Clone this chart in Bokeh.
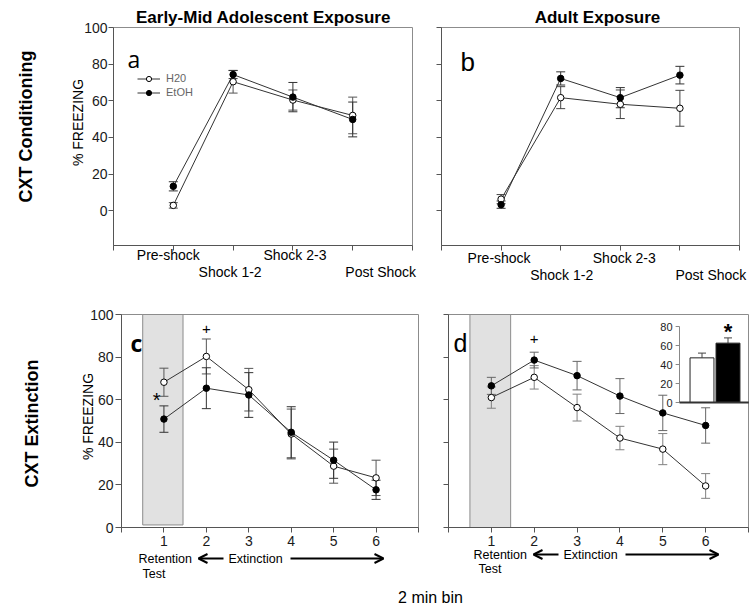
import math
from bokeh.plotting import figure
from bokeh.models import (Range1d, FixedTicker, ColumnDataSource, Label, Arrow, OpenHead,
                          Legend, LegendItem)
from bokeh.layouts import column, row
from bokeh.embed import file_html
from bokeh.resources import INLINE
from bokeh.core.properties import value

# ---------------- data ----------------
phases = ["Pre-shock", "Shock 1-2", "Shock 2-3", "Post Shock"]
a_h2o = [2.9, 70.4, 60.4, 52.0]
a_h2o_err = [1.5, 6.2, 5.5, 10.0]
a_etoh = [13.3, 74.3, 62.0, 49.8]
a_etoh_err = [2.5, 2.2, 8.0, 9.5]
b_h2o = [6.3, 61.7, 58.1, 55.9]
b_h2o_err = [2.5, 6.0, 7.8, 9.8]
b_etoh = [3.3, 72.2, 61.7, 74.0]
b_etoh_err = [2.0, 3.6, 5.5, 4.8]

bins = [1, 2, 3, 4, 5, 6]
c_h2o = [68.2, 80.3, 64.7, 43.9, 28.8, 23.3]
c_h2o_err = [6.6, 8.2, 10.0, 11.7, 8.0, 8.3]
c_etoh = [50.9, 65.4, 62.2, 44.7, 31.6, 17.7]
c_etoh_err = [6.2, 9.6, 10.5, 12.0, 8.5, 4.5]
d_h2o = [61.0, 70.5, 56.3, 42.0, 36.8, 19.5]
d_h2o_err = [5.0, 5.5, 6.3, 5.5, 7.3, 5.8]
d_etoh = [66.5, 78.6, 71.3, 61.7, 53.8, 47.9]
d_etoh_err = [4.0, 3.7, 6.7, 8.2, 8.3, 8.3]

inset_groups = ["H20", "EtOH"]
inset_means = [47.0, 62.5]
inset_err = [5.0, 5.5]

y_ticks = [0, 20, 40, 60, 80, 100]
inset_ticks = [0, 20, 40, 60, 80]
retention_bin = 1

FONT = "Liberation Sans"
AX = "#555555"
LINE = "#333333"


def rng(d0, p0, d1, p1, lo_px, hi_px):
    """data values seen at two canvas pixel positions, for a linear map through (p0,d0),(p1,d1)"""
    k = (d1 - d0) / (p1 - p0)
    return (d0 + (lo_px - p0) * k, d0 + (hi_px - p0) * k)


def make_fig(width, height, xr, yr):
    p = figure(width=width, height=height, x_range=Range1d(*xr), y_range=Range1d(*yr),
               output_backend="svg", toolbar_location=None, min_border=0)
    p.grid.visible = False
    p.outline_line_color = None
    p.background_fill_color = "white"
    p.border_fill_color = "white"
    for ax in p.axis:
        ax.axis_line_color = AX
        ax.major_tick_line_color = AX
        ax.minor_tick_line_color = AX
        ax.major_tick_out = 5
        ax.major_tick_in = 0
        ax.minor_tick_out = 5
        ax.minor_tick_in = 0
        ax.major_label_text_font = FONT
        ax.major_label_text_font_size = "14px"
        ax.major_label_text_color = "#1a1a1a"
    return p


def box(p, x0, x1, y0, y1):
    p.quad(left=[x0], right=[x1], bottom=[y0], top=[y1], fill_color=None,
           line_color="#8c8c8c", line_width=1)


def series(p, xs, ys, errs):
    src = ColumnDataSource(dict(x=xs, y=ys,
                                upper=[v + e for v, e in zip(ys, errs)],
                                lower=[v - e for v, e in zip(ys, errs)]))
    ln = p.line("x", "y", source=src, line_color=LINE, line_width=1)
    return src, ln


def errbars(p, src, err_color, cap=9):
    p.segment(x0="x", y0="lower", x1="x", y1="upper", source=src, line_color=err_color, line_width=1)
    p.scatter("x", "upper", source=src, marker="dash", size=cap, line_color=err_color, line_width=1)
    p.scatter("x", "lower", source=src, marker="dash", size=cap, line_color=err_color, line_width=1)


def markers(p, src, filled):
    return p.scatter("x", "y", source=src, marker="circle", size=6.5,
                     fill_color="black" if filled else "white", line_color="black", line_width=1)


def labeler(p, ox, obottom):
    def lab(text, ax, ay, size="14px", style="normal", align="center", baseline="middle",
            angle=0, color="black", font=FONT, data_x=None, x_off=0):
        if data_x is None:
            kw = dict(x=ax - ox, x_units="screen")
        else:
            kw = dict(x=data_x, x_units="data", x_offset=x_off)
        p.add_layout(Label(y=obottom - ay, y_units="screen", text=text, text_font=font,
                           text_font_size=size, text_font_style=style, text_align=align,
                           text_baseline=baseline, angle=angle, text_color=color, **kw))
    return lab


def arrow(p, ox, obottom, x0, x1, y):
    p.add_layout(Arrow(x_start=x0 - ox, y_start=obottom - y, x_end=x1 - ox, y_end=obottom - y,
                       start_units="screen", end_units="screen", line_width=2, line_color="black",
                       end=OpenHead(size=9, line_width=2, line_color="black")))


# ---------------- panel a : canvas (0,0) 427x290, box x 113..412, y 27..245 ----------------
fa = make_fig(427, 290, rng(0, 113, 5, 412, 0, 427), rng(-19, 245, 100, 27, 290, 0))
px = list(range(1, len(phases) + 1))
xa_ticks = list(range(0, len(phases) + 2))
box(fa, 0, 5, -19, 100)
fa.xaxis.fixed_location = -19
fa.xaxis.bounds = (0, 5)
fa.xaxis.ticker = FixedTicker(ticks=[], minor_ticks=xa_ticks)
fa.yaxis.fixed_location = 0
fa.yaxis.bounds = (-19, 100)
fa.yaxis.ticker = FixedTicker(ticks=y_ticks, minor_ticks=[])
fa.yaxis.major_label_standoff = 1

sa_h, la_h = series(fa, px, a_h2o, a_h2o_err)
sa_e, la_e = series(fa, px, a_etoh, a_etoh_err)
errbars(fa, sa_h, "#555555")
errbars(fa, sa_e, "#333333")
ma_h = markers(fa, sa_h, False)
ma_e = markers(fa, sa_e, True)

leg = Legend(items=[LegendItem(label="H20", renderers=[la_h, ma_h]),
                    LegendItem(label="EtOH", renderers=[la_e, ma_e])],
             location=(137, 290 - 98.5), glyph_width=23, glyph_height=13, label_height=13,
             label_standoff=6, spacing=1, padding=0, margin=0, border_line_color=None,
             background_fill_alpha=0, label_text_font=FONT, label_text_font_size="11px",
             label_text_color="#666666")
fa.add_layout(leg)

la = labeler(fa, 0, 290)
cat_offsets_a = [-5, -3, 2, 28]
cat_rows_a = [254, 271, 254, 271]
for i, name in enumerate(phases):
    la(name, 0, cat_rows_a[i], data_x=px[i], x_off=cat_offsets_a[i])
la("Early-Mid Adolescent Exposure", 263, 16.5, size="17px", style="bold")
la("% FREEZING", 77, 122, angle=math.pi / 2)
la("CXT Conditioning", 25, 126, size="18px", style="bold", angle=math.pi / 2)
la("a", 127, 58, size="23px", align="left", baseline="alphabetic", font="Open Sans")

# ---------------- panel b : canvas (427,0) 322x290, box x 441..739, y 27..245 ----------------
fb = make_fig(322, 290, rng(0, 441, 5, 739, 427, 749), rng(-19, 245, 100, 27, 290, 0))
box(fb, 0, 5, -19, 100)
fb.xaxis.fixed_location = -19
fb.xaxis.bounds = (0, 5)
fb.xaxis.ticker = FixedTicker(ticks=[], minor_ticks=xa_ticks)
fb.yaxis.fixed_location = 0
fb.yaxis.bounds = (-19, 100)
fb.yaxis.ticker = FixedTicker(ticks=[], minor_ticks=y_ticks)

sb_h, lb_h = series(fb, px, b_h2o, b_h2o_err)
sb_e, lb_e = series(fb, px, b_etoh, b_etoh_err)
errbars(fb, sb_h, "#444444")
errbars(fb, sb_e, "#333333")
markers(fb, sb_h, False)
markers(fb, sb_e, True)

lb = labeler(fb, 427, 290)
cat_offsets_b = [-2, 1, 4, 31]
cat_rows_b = [257, 274, 257, 274]
for i, name in enumerate(phases):
    lb(name, 0, cat_rows_b[i], data_x=px[i], x_off=cat_offsets_b[i])
lb("Adult Exposure", 597, 16.5, size="17px", style="bold")
lb("b", 460, 61, size="26px", align="left", baseline="alphabetic")

# ---------------- panel c : canvas (0,290) 430x290, box x 121..418, y 314..527 ----------------
nb = len(bins) + 1
fc = make_fig(430, 290, rng(0, 121, nb, 418, 0, 430), rng(0, 527, 100, 314, 580, 290))
box(fc, 0, nb, 0, 100)
fc.quad(left=[retention_bin - 0.5], right=[retention_bin + 0.45], bottom=[1.2], top=[100],
        fill_color="#e1e1e1", line_color="#8c8c8c", line_width=1)
fc.xaxis.fixed_location = 0
fc.xaxis.bounds = (0, nb)
fc.xaxis.ticker = FixedTicker(ticks=bins, minor_ticks=[0, nb])
fc.xaxis.major_label_standoff = 3
fc.yaxis.fixed_location = 0
fc.yaxis.bounds = (0, 100)
fc.yaxis.ticker = FixedTicker(ticks=y_ticks, minor_ticks=[])
fc.yaxis.major_label_standoff = 2
fc.yaxis.major_tick_out = 6

sc_h, lc_h = series(fc, bins, c_h2o, c_h2o_err)
sc_e, lc_e = series(fc, bins, c_etoh, c_etoh_err)
errbars(fc, sc_h, "#555555")
errbars(fc, sc_e, "#333333")
markers(fc, sc_h, False)
markers(fc, sc_e, True)

lc = labeler(fc, 0, 580)
lc("% FREEZING", 87, 416, angle=math.pi / 2)
lc("CXT Extinction", 31, 423, size="18px", style="bold", angle=math.pi / 2)
lc("c", 130, 342, size="23px", align="left", baseline="alphabetic", font="Open Sans", style="bold")
fc.add_layout(Label(x=2, y=93, text="+", text_font=FONT, text_font_size="15px",
                    text_align="center", text_baseline="middle", text_color="black"))
fc.add_layout(Label(x=0.83, y=60, text="*", text_font=FONT, text_font_size="20px",
                    text_align="center", text_baseline="middle", text_color="black"))
lc("Retention", 138, 558, size="12.5px", align="left")
lc("Test", 142, 573, size="12.5px", align="left")
lc("Extinction", 228, 558, size="12.5px", align="left")
arrow(fc, 0, 580, 223, 198, 558)
arrow(fc, 0, 580, 290, 383, 558)

# ---------------- panel d : canvas (430,290) 319x290, box x 448..748, y 314..527 ----------------
fd = make_fig(319, 290, rng(0, 448, nb, 748, 430, 749), rng(0, 527, 100, 314, 580, 290))
box(fd, 0, nb, 0, 100)
fd.quad(left=[retention_bin - 0.5], right=[retention_bin + 0.45], bottom=[0], top=[100],
        fill_color="#e1e1e1", line_color="#8c8c8c", line_width=1)
fd.xaxis.fixed_location = 0
fd.xaxis.bounds = (0, nb)
fd.xaxis.ticker = FixedTicker(ticks=bins, minor_ticks=[0, nb])
fd.xaxis.major_label_standoff = 3
fd.yaxis.fixed_location = 0
fd.yaxis.bounds = (0, 100)
fd.yaxis.ticker = FixedTicker(ticks=[], minor_ticks=y_ticks)

sd_h, ld_h = series(fd, bins, d_h2o, d_h2o_err)
sd_e, ld_e = series(fd, bins, d_etoh, d_etoh_err)
errbars(fd, sd_h, "#808080")
errbars(fd, sd_e, "#666666")
markers(fd, sd_h, False)
markers(fd, sd_e, True)

ld = labeler(fd, 430, 580)
ld("d", 453, 342, size="25px", align="left", baseline="alphabetic")
fd.add_layout(Label(x=2, y=88.7, text="+", text_font=FONT, text_font_size="15px",
                    text_align="center", text_baseline="middle", text_color="black"))
ld("Retention", 473, 554, size="12.5px", align="left")
ld("Test", 478, 568, size="12.5px", align="left")
ld("Extinction", 563, 554, size="12.5px", align="left")
arrow(fd, 430, 580, 558, 533, 554)
arrow(fd, 430, 580, 625, 718, 554)

# inset bar chart inside panel d: categories at x 701.5 / 727.5, y 0 at 402 and 80 at 326
fd.extra_x_ranges = {"ix": Range1d(*rng(1, 701.5, 2, 727.5, 430, 749))}
fd.extra_y_ranges = {"iy": Range1d(*rng(0, 402, 80, 326, 580, 290))}
ix = list(range(1, len(inset_groups) + 1))
iax = 0.135
fd.segment(x0=[iax] * len(inset_ticks), y0=inset_ticks, x1=[iax - 0.15] * len(inset_ticks), y1=inset_ticks,
           line_color="#888888", line_width=1, x_range_name="ix", y_range_name="iy")
fd.segment(x0=[iax], y0=[0], x1=[iax], y1=[max(inset_ticks)], line_color="#888888", line_width=1,
           x_range_name="ix", y_range_name="iy")
fd.text(x=[iax] * len(inset_ticks), y=inset_ticks, text=[str(t) for t in inset_ticks], x_offset=-7,
        text_align="right", text_baseline="middle", text_font=value(FONT), text_font_size="11px",
        text_color="#222222", x_range_name="ix", y_range_name="iy")
isrc = ColumnDataSource(dict(x=ix, top=inset_means,
                             up=[m + e for m, e in zip(inset_means, inset_err)],
                             fill=["white", "black"]))
fd.segment(x0="x", y0="top", x1="x", y1="up", source=isrc, line_color="#444444", line_width=1,
           x_range_name="ix", y_range_name="iy")
fd.scatter("x", "up", source=isrc, marker="dash", size=8, line_color="#444444", line_width=1,
           x_range_name="ix", y_range_name="iy")
fd.vbar(x="x", top="top", bottom=0, width=0.92, source=isrc, fill_color="fill", line_color="#222222",
        line_width=1, x_range_name="ix", y_range_name="iy")
fd.segment(x0=[iax], y0=[0], x1=[2.8], y1=[0], line_color="#333333", line_width=2,
           x_range_name="ix", y_range_name="iy")
fd.text(x=[ix[1]], y=[inset_means[1] + inset_err[1]], text=["*"], y_offset=6,
        text_align="center", text_baseline="bottom", text_font=value(FONT), text_font_size="22px",
        text_font_style="bold", text_color="black", x_range_name="ix", y_range_name="iy")

# ---------------- bottom label ----------------
fe = figure(width=749, height=30, x_range=Range1d(0, 1), y_range=Range1d(0, 1),
            output_backend="svg", toolbar_location=None, min_border=0,
            x_axis_location=None, y_axis_location=None)
fe.grid.visible = False
fe.outline_line_color = None
labeler(fe, 0, 610)("2 min bin", 430, 597, size="16px")

layout = column(row(fa, fb), row(fc, fd), fe)
open("out.html", "w").write(file_html(layout, INLINE))
